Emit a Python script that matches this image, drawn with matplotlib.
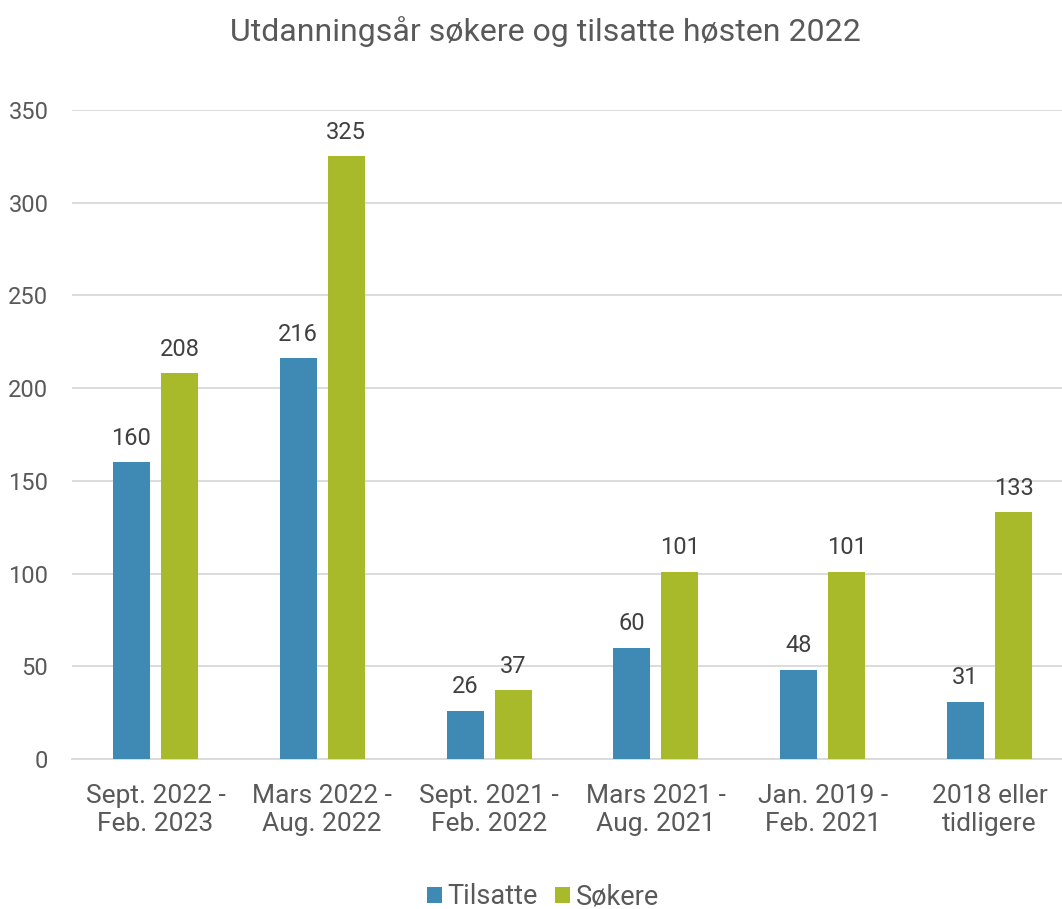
import numpy as np
import matplotlib.pyplot as plt

plt.rcParams['font.family'] = ['Roboto', 'DejaVu Sans']

categories = ['Sept. 2022 -\nFeb. 2023', 'Mars 2022 -\nAug. 2022', 'Sept. 2021 -\nFeb. 2022',
              'Mars 2021 -\nAug. 2021', 'Jan. 2019 -\nFeb. 2021', '2018 eller\ntidligere']
tilsatte = [160, 216, 26, 60, 48, 31]
sokere = [208, 325, 37, 101, 101, 133]

blue = '#3f89b5'
green = '#a8b92a'
txt = '#595959'

fig = plt.figure(figsize=(10.62, 9.09), dpi=100)
# plot area runs slightly past the right edge, as in the reference
ax = fig.add_axes([72 / 1062, 150 / 909, 1001 / 1062, 649 / 909])

x = np.arange(len(categories))
w = 0.222
off = 0.144
b1 = ax.bar(x - off, tilsatte, w, color=blue, label='Tilsatte', zorder=3)
b2 = ax.bar(x + off, sokere, w, color=green, label='Søkere', zorder=3)

for bars in (b1, b2):
    for r in bars:
        ax.annotate(str(int(r.get_height())), (r.get_x() + r.get_width() / 2, r.get_height()),
                    xytext=(0, 9), textcoords='offset points', ha='center', va='bottom',
                    fontsize=17, color='#404040')

ax.set_xlim(-0.5, len(categories) - 0.5)
ax.set_ylim(0, 350)
ax.set_yticks(np.arange(0, 351, 50))
ax.set_xticks(x)
ax.set_xticklabels(categories, fontsize=19, color=txt, linespacing=1.22)
ax.tick_params(axis='y', labelsize=17, colors=txt, length=0, pad=17)
ax.tick_params(axis='x', length=0, pad=18)
for lab in ax.get_yticklabels():
    lab.set_color(txt)

ax.grid(axis='y', color='#d9d9d9', linewidth=1.3, zorder=0)
for s in ['top', 'right', 'left']:
    ax.spines[s].set_visible(False)
ax.spines['bottom'].set_color('#d9d9d9')
ax.spines['bottom'].set_linewidth(1.3)

fig.text(545 / 1062, 1 - 32 / 909, 'Utdanningsår søkere og tilsatte høsten 2022',
         ha='center', va='center', fontsize=23, color=txt)

fig.legend(handles=[b1, b2], loc='center', bbox_to_anchor=(543 / 1062, 1 - 897 / 909),
           ncol=2, frameon=False, fontsize=19.5, labelcolor=txt, handlelength=0.55,
           handleheight=0.55, handletextpad=0.2, columnspacing=0.65)

fig.savefig('out.png', dpi=100)
